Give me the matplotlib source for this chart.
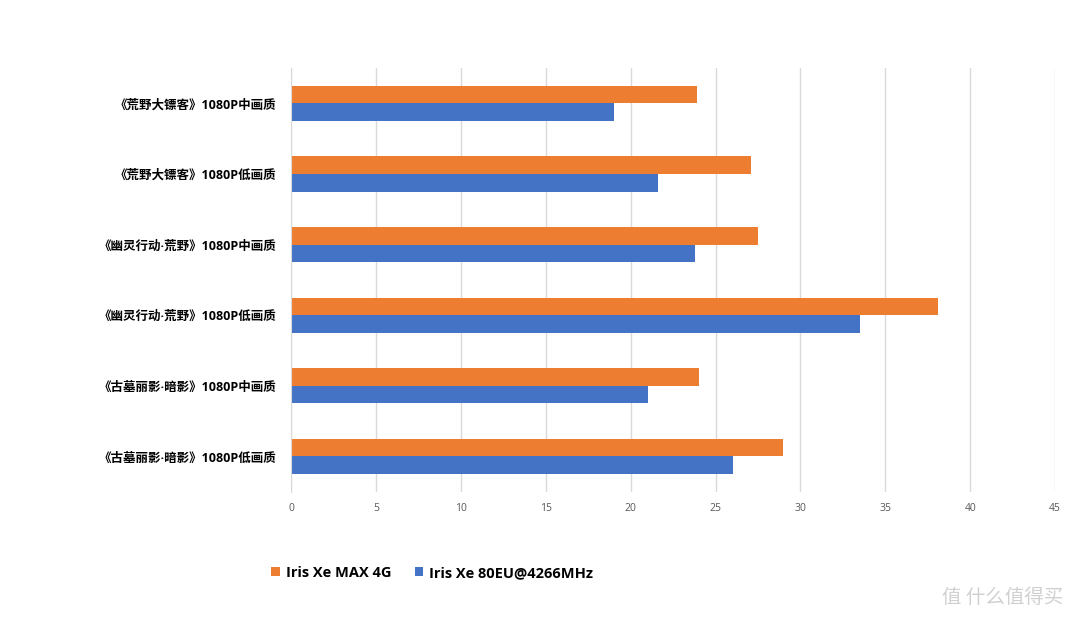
import matplotlib
matplotlib.use("Agg")
import matplotlib.pyplot as plt
import numpy as np
from matplotlib.patches import Patch

plt.rcParams['font.family'] = ['Noto Sans CJK SC', 'DejaVu Sans']

categories = ["《荒野大镖客》1080P中画质", "《荒野大镖客》1080P低画质",
              "《幽灵行动·荒野》1080P中画质", "《幽灵行动·荒野》1080P低画质",
              "《古墓丽影·暗影》1080P中画质", "《古墓丽影·暗影》1080P低画质"]
series_names = ["Iris Xe MAX 4G", "Iris Xe 80EU@4266MHz"]
max4g = [23.9, 27.1, 27.5, 38.1, 24.0, 29.0]
xe80 = [19.0, 21.6, 23.8, 33.5, 21.0, 26.0]
xticks = [0, 5, 10, 15, 20, 25, 30, 35, 40, 45]

orange = "#ED7D31"
blue = "#4472C4"

fig = plt.figure(figsize=(10.8, 6.24), dpi=100)
ax = fig.add_axes([0.2695, 0.212, 0.7075, 0.679])

y = np.arange(len(categories))
h = 0.25
ax.barh(y - h / 2, max4g, height=h, color=orange, zorder=3)
ax.barh(y + h / 2, xe80, height=h, color=blue, zorder=3)

ax.set_ylim(len(categories) - 0.5, -0.5)
ax.set_xlim(0, 45)
ax.set_xticks(xticks)
ax.set_xticklabels([str(t) for t in xticks], fontsize=7.5, color="#595959",
                   family=['Open Sans', 'DejaVu Sans'])
ax.set_yticks(y)
ax.set_yticklabels(categories, fontsize=9, fontweight='bold', color="#000000",
                   family=['Open Sans', 'Noto Sans CJK SC', 'DejaVu Sans'])
ax.tick_params(axis='both', length=0)
ax.tick_params(axis='x', pad=8)
ax.tick_params(axis='y', pad=11)

ax.grid(axis='x', color="#D9D9D9", linewidth=1, zorder=0)
ax.set_axisbelow(True)
for s in ['top', 'right', 'bottom']:
    ax.spines[s].set_visible(False)
ax.spines['left'].set_color("#D9D9D9")
ax.spines['left'].set_zorder(4)

handles = [Patch(facecolor=orange, label=series_names[0]),
           Patch(facecolor=blue, label=series_names[1])]
fig.legend(handles=handles, loc='center left', bbox_to_anchor=(0.239, 0.082),
           ncol=2, frameon=False, handlelength=0.6, handleheight=0.6,
           handletextpad=0.4, columnspacing=1.6,
           prop={'family': ['Open Sans', 'DejaVu Sans'], 'weight': 'bold', 'size': 10.5})

fig.text(0.985, 0.042, "值 什么值得买", fontsize=14, color="#D0D0D0",
         ha='right', va='center')

fig.savefig("out.png", dpi=100)
